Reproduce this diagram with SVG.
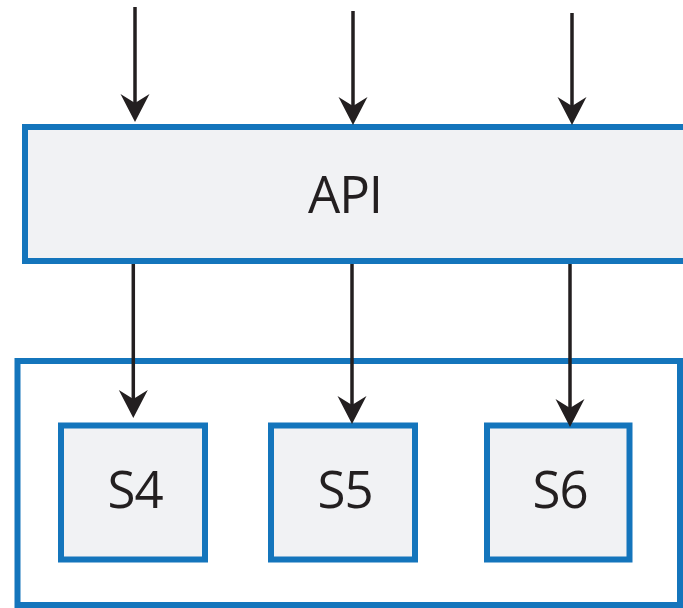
<svg xmlns="http://www.w3.org/2000/svg" width="683" height="608" viewBox="0 0 683 608">
<style>
.box{fill:#f1f2f4;stroke:#1475bc;stroke-width:6}
.frame{fill:#ffffff;stroke:#1475bc;stroke-width:6}
.lbl{font-family:"Open Sans","Liberation Sans",sans-serif;font-size:51px;letter-spacing:-1px;fill:#231f20;text-anchor:middle}
.conn{stroke:#231f20;stroke-width:3.5;fill:none}
</style>
<defs>
<marker id="ah" markerUnits="userSpaceOnUse" markerWidth="34" markerHeight="34" viewBox="-30 -17 32 34" refX="-19" refY="0" orient="auto" overflow="visible">
<path d="M0,0 L-28,-14.5 L-19,0 L-28,14.5 Z" fill="#231f20"/>
</marker>
</defs>
<rect width="683" height="608" fill="#ffffff"/>
<g id="container">
<rect class="frame" x="17.5" y="361" width="662.5" height="244"/>
</g>
<g id="api">
<rect class="box" x="25" y="127" width="670" height="134"/>
<text class="lbl" x="345" y="213">API</text>
</g>
<g id="s4">
<rect class="box" x="61" y="425.5" width="144" height="134"/>
<text class="lbl" x="135" y="508">S4</text>
</g>
<g id="s5">
<rect class="box" x="271" y="425.5" width="144" height="134"/>
<text class="lbl" x="345" y="508">S5</text>
</g>
<g id="s6">
<rect class="box" x="487" y="425.5" width="142.5" height="134"/>
<text class="lbl" x="560" y="508">S6</text>
</g>
<g id="connectors">
<line class="conn" x1="135" y1="7" x2="135" y2="103" marker-end="url(#ah)"/>
<line class="conn" x1="353" y1="11" x2="353" y2="106" marker-end="url(#ah)"/>
<line class="conn" x1="572" y1="13" x2="572" y2="106" marker-end="url(#ah)"/>
<line class="conn" x1="133.3" y1="264" x2="133.3" y2="399" marker-end="url(#ah)"/>
<line class="conn" x1="352" y1="264" x2="352" y2="405" marker-end="url(#ah)"/>
<line class="conn" x1="570" y1="264" x2="570" y2="408" marker-end="url(#ah)"/>
</g>
</svg>
